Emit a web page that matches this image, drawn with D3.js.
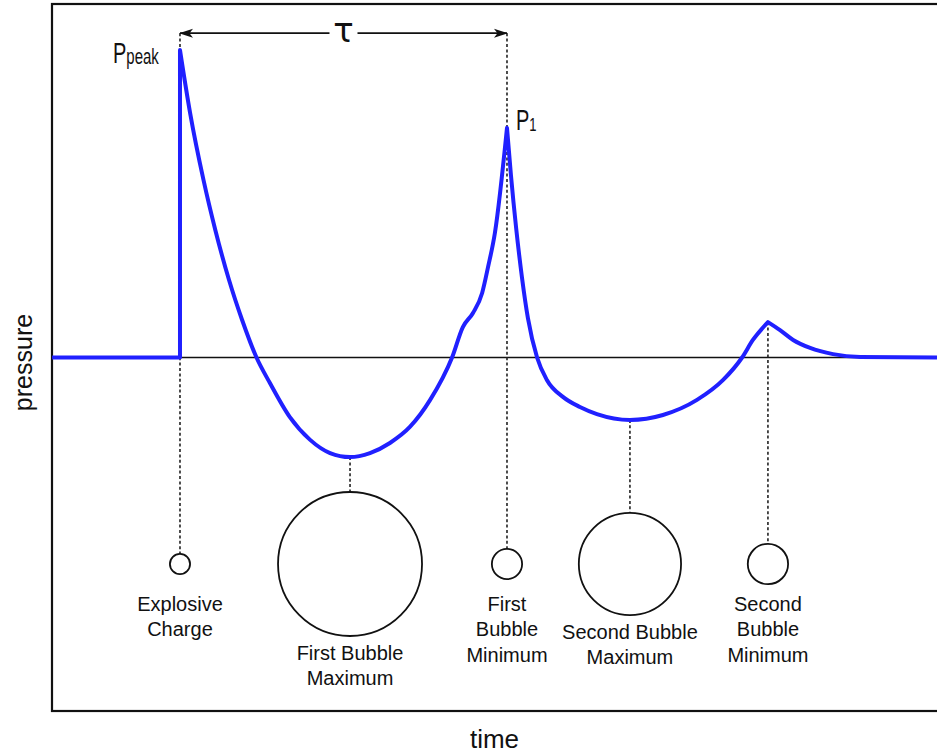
<!DOCTYPE html>
<html>
<head>
<meta charset="utf-8">
<script src="https://cdn.jsdelivr.net/npm/d3@7"></script>
<style>
  body { margin: 0; background: #fff; }
  svg { display: block; }
  text { font-family: "Liberation Sans", Arial, sans-serif; fill: #111; }
</style>
</head>
<body>
<svg id="chart" width="937" height="754"></svg>
<script>
// Pressure signature of an underwater explosion (time in units of the bubble period τ).
const time = [
  -0.391, 0, 0, 0.031, 0.072, 0.108, 0.150, 0.190, 0.234, 0.275,
  0.336, 0.398, 0.459, 0.520, 0.581, 0.642, 0.703, 0.765, 0.832, 0.865,
  0.896, 0.924, 0.942, 0.963, 1.000, 1.012, 1.028, 1.046, 1.064, 1.092,
  1.122, 1.171, 1.223, 1.275, 1.376, 1.477, 1.581, 1.661, 1.719, 1.752,
  1.798, 1.835, 1.875, 1.927, 1.997, 2.080, 2.315
];
const pressure = [
  0, 0, 100, 79.5, 57.7, 41.5, 25.2, 12.2, 0, -8.3,
  -19.4, -26.8, -31.1, -32.4, -31.1, -27.8, -22.6, -13.8, 0, 9.9,
  14.5, 21.0, 29.4, 40.5, 74.7, 59.4, 42.1, 25.9, 12.8, 0,
  -7.3, -12.8, -16.1, -18.4, -20.3, -18.7, -13.8, -7.3, 0, 5.7,
  11.5, 8.9, 5.7, 3.1, 1.1, 0.2, 0
];
// Sharp corners of the trace: detonation onset, shock peak, first and second bubble pulses
const cornerIndex = [1, 2, 24, 40];

// Bubble stages marked under the trace
const eventLabels = [
  ["Explosive", "Charge"],
  ["First Bubble", "Maximum"],
  ["First", "Bubble", "Minimum"],
  ["Second Bubble", "Maximum"],
  ["Second", "Bubble", "Minimum"]
];
const eventTime = [0, 0.520, 1.000, 1.376, 1.798];
const eventPressure = [100, -32.4, 74.7, -20.3, 11.5];
const bubbleSize = [0.14, 1.0, 0.21, 0.71, 0.28];

const tauStart = 0, tauEnd = 1.0, tauLevel = 105.5;

const svg = d3.select("#chart");
const frame = { left: 52, right: 940, top: 4, bottom: 711 };

const x = d3.scaleLinear().domain([-0.3914, 2.315]).range([52, 937]);
const y = d3.scaleLinear().domain([-115, 115]).range([711, 4]);
const r = d3.scaleLinear().domain([0, 1]).range([0, 72]);
const bubbleRowY = 564;

// frame
svg.append("rect")
  .attr("x", frame.left).attr("y", frame.top)
  .attr("width", frame.right - frame.left).attr("height", frame.bottom - frame.top)
  .attr("fill", "none").attr("stroke", "#111").attr("stroke-width", 2.2);

// ambient-pressure line
svg.append("line")
  .attr("x1", x(-0.3914)).attr("x2", x(2.315))
  .attr("y1", y(0)).attr("y2", y(0))
  .attr("stroke", "#111").attr("stroke-width", 1.6);

// leaders from trace to bubble sketches
const dash = "3,2.4";
eventTime.forEach((t, i) => {
  const isTau = (t === tauStart || t === tauEnd);
  const top = isTau ? y(tauLevel) : y(eventPressure[i]);
  svg.append("line")
    .attr("x1", x(t)).attr("x2", x(t))
    .attr("y1", top).attr("y2", bubbleRowY - r(bubbleSize[i]))
    .attr("stroke", "#222").attr("stroke-width", 1.6)
    .attr("stroke-dasharray", dash);
});

// pressure trace, split at sharp corners so peaks stay pointed
const pts = time.map((t, i) => [t, pressure[i]]);
const bounds = [0, ...cornerIndex, pts.length - 1];
const curve = d3.line().x(d => x(d[0])).y(d => y(d[1])).curve(d3.curveMonotoneX);
let pathD = "";
for (let k = 0; k < bounds.length - 1; k++) {
  const seg = pts.slice(bounds[k], bounds[k + 1] + 1);
  const d = seg.length === 2 && seg[0][0] === seg[1][0]
    ? `M${x(seg[0][0])},${y(seg[0][1])}L${x(seg[1][0])},${y(seg[1][1])}`
    : curve(seg);
  pathD += k === 0 ? d : d.replace(/^M[^LC]*/, "");
}
svg.append("path")
  .attr("d", pathD)
  .attr("fill", "none")
  .attr("stroke", "#2020ff")
  .attr("stroke-width", 4)
  .attr("stroke-linejoin", "round")
  .attr("stroke-linecap", "butt");

// bubble sketches
eventTime.forEach((t, i) => {
  svg.append("circle")
    .attr("cx", x(t)).attr("cy", bubbleRowY)
    .attr("r", r(bubbleSize[i]))
    .attr("fill", "none").attr("stroke", "#111").attr("stroke-width", 1.8);
  const first = Math.max(bubbleRowY + r(bubbleSize[i]) + 24, 611);
  const txt = svg.append("text")
    .attr("x", x(t)).attr("y", first)
    .attr("text-anchor", "middle")
    .style("font-size", "20px");
  eventLabels[i].forEach((line, j) => {
    txt.append("tspan").attr("x", x(t)).attr("y", first + j * 25.3).text(line);
  });
});

// bubble period arrow
const defs = svg.append("defs");
defs.append("marker")
  .attr("id", "arrow").attr("viewBox", "0 0 14 10")
  .attr("refX", 13).attr("refY", 5)
  .attr("markerWidth", 14).attr("markerHeight", 10)
  .attr("markerUnits", "userSpaceOnUse")
  .attr("orient", "auto-start-reverse")
  .append("path").attr("d", "M0,0.5 L14,5 L0,9.5 L3.5,5 Z").attr("fill", "#111");

svg.append("line")
  .attr("x1", x(tauStart)).attr("x2", x(tauEnd))
  .attr("y1", y(tauLevel)).attr("y2", y(tauLevel))
  .attr("stroke", "#111").attr("stroke-width", 1.8)
  .attr("marker-start", "url(#arrow)").attr("marker-end", "url(#arrow)");
const tauX = (x(tauStart) + x(tauEnd)) / 2;
svg.append("rect")
  .attr("x", tauX - 14).attr("y", y(tauLevel) - 10)
  .attr("width", 28).attr("height", 20).attr("fill", "#fff");
svg.append("text")
  .attr("x", tauX).attr("y", y(tauLevel) + 9)
  .attr("text-anchor", "middle")
  .style("font-family", "'DejaVu Sans', sans-serif")
  .style("font-size", "34px")
  .text("τ");

// peak labels
function peakLabel(px, py, sub, subSize) {
  const g = svg.append("g").attr("transform", `translate(${px},${py}) scale(1,1.45)`);
  const t = g.append("text").attr("x", 0).attr("y", 0).style("font-size", "20px");
  t.append("tspan").text("P");
  t.append("tspan").attr("dy", 1).style("font-size", subSize + "px").text(sub);
}
peakLabel(113, 63, "peak", 15);
peakLabel(516, 130, "1", 13);

// axis titles
svg.append("text")
  .attr("transform", `translate(32,${(frame.top + frame.bottom) / 2 + 5}) rotate(-90)`)
  .attr("text-anchor", "middle")
  .style("font-size", "25px")
  .text("pressure");
svg.append("text")
  .attr("x", (52 + 937) / 2).attr("y", 748)
  .attr("text-anchor", "middle")
  .style("font-size", "26px")
  .text("time");
</script>
</body>
</html>
